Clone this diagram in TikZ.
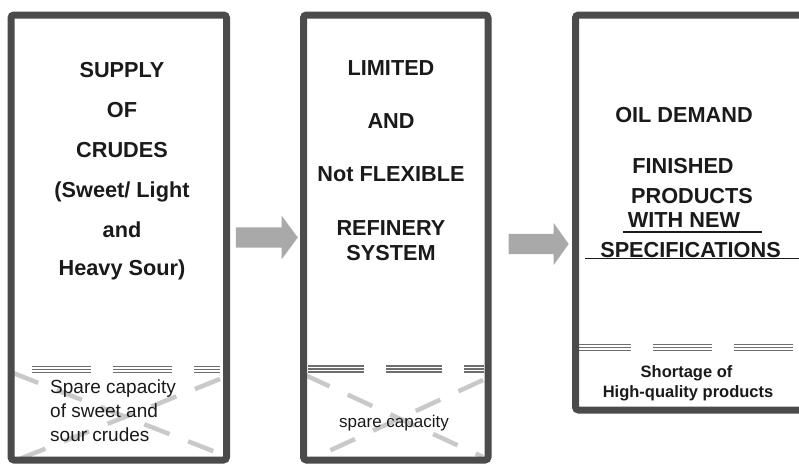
\documentclass[tikz,border=0pt]{standalone}
\usepackage{fontspec}
\setmainfont{Liberation Sans}
\usetikzlibrary{shapes.arrows}
\definecolor{frame}{HTML}{4B4B4B}
\definecolor{arrowgray}{HTML}{A9A9A9}
\definecolor{crossgray}{HTML}{C9C9C9}
\definecolor{rulegray}{HTML}{6E6E6E}
\definecolor{ink}{HTML}{1A1A1A}
\tikzset{
  panel/.style={draw=frame, line width=7pt, rounded corners=3pt, fill=none,
    rectangle, inner sep=0pt, minimum width=#1},
  flow/.style={single arrow, fill=arrowgray, draw=none, inner sep=0pt,
    inner ysep=10pt, single arrow head extend=11.5pt,
    single arrow tip angle=107, minimum height=#1},
  headline/.style={anchor=base, text=ink, font=\fontsize{21.7}{24}\selectfont\bfseries, inner sep=0pt},
  smallhead/.style={anchor=base, text=ink, font=\fontsize{16.5}{19}\selectfont\bfseries, inner sep=0pt},
  note/.style={anchor=base west, text=ink, font=\fontsize{19}{22}\selectfont, inner sep=0pt},
  cross/.style={draw=crossgray, line width=4.5pt, dash pattern=on 27pt off 20pt},
  capline/.style={draw=rulegray, line width=1.4pt},
  underline/.style={draw=ink, line width=1.8pt}
}
\newcommand{\spareline}[4]{%
  % three thin grey rules in dashes: y, x-start, x-end, dash length
  \foreach \dy in {-3,0,3}
    \draw[capline, dash pattern=on #4pt off 22pt] (#2,#1+\dy) -- (#3,#1+\dy);
}
\begin{document}
\begin{tikzpicture}[x=1pt,y=-1pt]
\clip (0,0) rectangle (799,463);
\fill[white] (0,0) rectangle (799,463);

% spare-capacity crosses
\draw[cross] (13,373) -- (218,453);
\draw[cross] (220,379) -- (17,460);
\draw[cross] (305,375) -- (483,457);
\draw[cross] (483,380) -- (305,462);

% dashed triple rules
\spareline{369.5}{32}{220}{59}
\spareline{369}{308}{484}{56}
\spareline{347.5}{572}{799}{59}

% the three panels
\node[panel=215.5pt, minimum height=445pt] (supply) at (118.75,237.5) {};
\node[panel=184.5pt, minimum height=445pt] (refinery) at (395.75,237.5) {};
\node[panel=260pt, minimum height=395pt] (demand) at (705.5,212.5) {};

% block arrows between panels
\node[flow=62pt] (a1) at (263,237.5) {};
\node[flow=60pt, single arrow head extend=11pt, single arrow tip angle=109] (a2) at (535,244) {};

% supply panel
\node[headline] (s1) at (122,77) {SUPPLY};
\node[headline] (s2) at (122,117) {OF};
\node[headline] (s3) at (122,157) {CRUDES};
\node[headline] (s4) at (122,197) {(Sweet/ Light};
\node[headline] (s5) at (122,237) {and};
\node[headline] (s6) at (122,275) {Heavy Sour)};
\node[note] (n1) at (50,393) {Spare capacity};
\node[note] (n2) at (50,417) {of sweet and};
\node[note] (n3) at (50,441) {sour crudes};

% refinery panel
\node[headline] (r1) at (391,75) {LIMITED};
\node[headline] (r2) at (391,128) {AND};
\node[headline] (r3) at (391,181.5) {Not FLEXIBLE};
\node[headline] (r4) at (391,235) {REFINERY};
\node[headline] (r5) at (391,260) {SYSTEM};
\node[anchor=base, text=ink, font=\fontsize{17}{20}\selectfont, inner sep=0pt] (r6) at (394,427) {spare capacity};

% demand panel
\node[headline] (d1) at (684,122) {OIL DEMAND};
\node[headline] (d2) at (683,173) {FINISHED};
\node[headline] (d3) at (692,203) {PRODUCTS};
\node[headline] (d4) at (684,227) {WITH NEW};
\node[headline] (d5) at (690.5,257) {SPECIFICATIONS};
\draw[underline] (623,232) -- (762,232);
\draw[underline] (585,258.5) -- (799,258.5);
\node[smallhead] (d6) at (686.5,377) {Shortage of};
\node[smallhead] (d7) at (688,397) {High-quality products};
\end{tikzpicture}
\end{document}
